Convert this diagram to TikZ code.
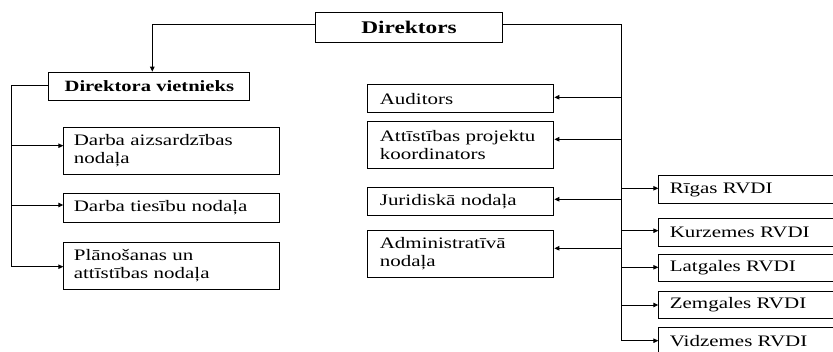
\documentclass[tikz,border=0pt]{standalone}
\usepackage{fontspec}
\setmainfont[FakeStretch=1.31]{Liberation Serif}
\usetikzlibrary{arrows.meta}
\begin{document}
\begin{tikzpicture}[x=1pt,y=-1pt,
 box/.style={draw, line width=1.1pt, anchor=north west, inner ysep=0pt, font=\fontsize{16}{18.3}\selectfont, align=left},
 lbox/.style={box, inner xsep=10pt, text width=195.4pt},
 mbox/.style={box, inner xsep=12pt, text width=162pt},
 rbox/.style={box, inner xsep=11pt, text width=170pt},
 bbox/.style={box, inner xsep=0pt, align=center},
 arr/.style={-{Triangle[length=5pt,width=4.5pt]}, line width=0.9pt},
 ln/.style={line width=0.9pt}]
\useasboundingbox (0,0) rectangle (833,351);
\clip (0,0) rectangle (833,351);
% top
\node[bbox, font=\fontsize{17.8}{20}\selectfont\bfseries, text width=187pt, minimum height=30pt] (dir) at (315,12.3) {Direktors};
\node[bbox, font=\fontsize{15.7}{18}\selectfont\bfseries, text width=201pt, minimum height=28.3pt] (dv) at (48.3,71.7) {Direktora vietnieks};
% left group
\node[lbox, minimum height=47.3pt] (da) at (63.3,126.7) {Darba aizsardzības\\nodaļa};
\node[lbox, minimum height=28.4pt] (dt) at (63.3,193.3) {Darba tiesību nodaļa};
\node[lbox, minimum height=47.3pt] (pl) at (63.3,241.7) {Plānošanas un\\attīstības nodaļa};
% middle group
\node[mbox, minimum height=28pt] (au) at (367.3,84.3) {Auditors};
\node[mbox, minimum height=46.7pt] (at) at (367.3,121) {Attīstības projektu\\koordinators};
\node[mbox, minimum height=27.7pt] (ju) at (367.3,187.3) {Juridiskā nodaļa};
\node[mbox, minimum height=46.7pt] (ad) at (367.3,230) {Administratīvā\\nodaļa};
% right group
\node[rbox, minimum height=28.3pt] (ri) at (658.3,175) {Rīgas RVDI};
\node[rbox, minimum height=28.3pt] (ku) at (658.3,217.7) {Kurzemes RVDI};
\node[rbox, minimum height=27pt] (la) at (658.3,254) {Latgales RVDI};
\node[rbox, minimum height=27pt] (ze) at (658.3,290.7) {Zemgales RVDI};
\node[rbox, minimum height=27pt] (vi) at (658.3,327.3) {Vidzemes RVDI};
% connectors: director to deputy
\coordinate (tl) at (152.3,24.3);
\draw[arr] (dir.west |- tl) -- (tl) -- (tl |- dv.north);
% left bus
\coordinate (lb) at (11.7,85);
\coordinate (lbe) at (11.7,266.7);
\coordinate (l1) at (11.7,145.7);
\coordinate (l2) at (11.7,205);
\draw[arr] (dv.west |- lb) -- (lb) -- (lbe) -- (lbe -| pl.west);
\draw[arr] (l1) -- (l1 -| da.west);
\draw[arr] (l2) -- (l2 -| dt.west);
% right bus
\coordinate (rt) at (621,24.3);
\coordinate (rb) at (621,340.7);
\draw[arr] (dir.east |- rt) -- (rt) -- (rb) -- (rb -| vi.west);
\coordinate (r1) at (621,97.3);
\coordinate (r2) at (621,139.3);
\coordinate (r3) at (621,188.3);
\coordinate (r4) at (621,199.3);
\coordinate (r5) at (621,230.7);
\coordinate (r6) at (621,248.3);
\coordinate (r7) at (621,267.3);
\coordinate (r8) at (621,305);
\draw[arr] (r1) -- (r1 -| au.east);
\draw[arr] (r2) -- (r2 -| at.east);
\draw[arr] (r4) -- (r4 -| ju.east);
\draw[arr] (r6) -- (r6 -| ad.east);
\draw[arr] (r3) -- (r3 -| ri.west);
\draw[arr] (r5) -- (r5 -| ku.west);
\draw[arr] (r7) -- (r7 -| la.west);
\draw[arr] (r8) -- (r8 -| ze.west);
\end{tikzpicture}
\end{document}
